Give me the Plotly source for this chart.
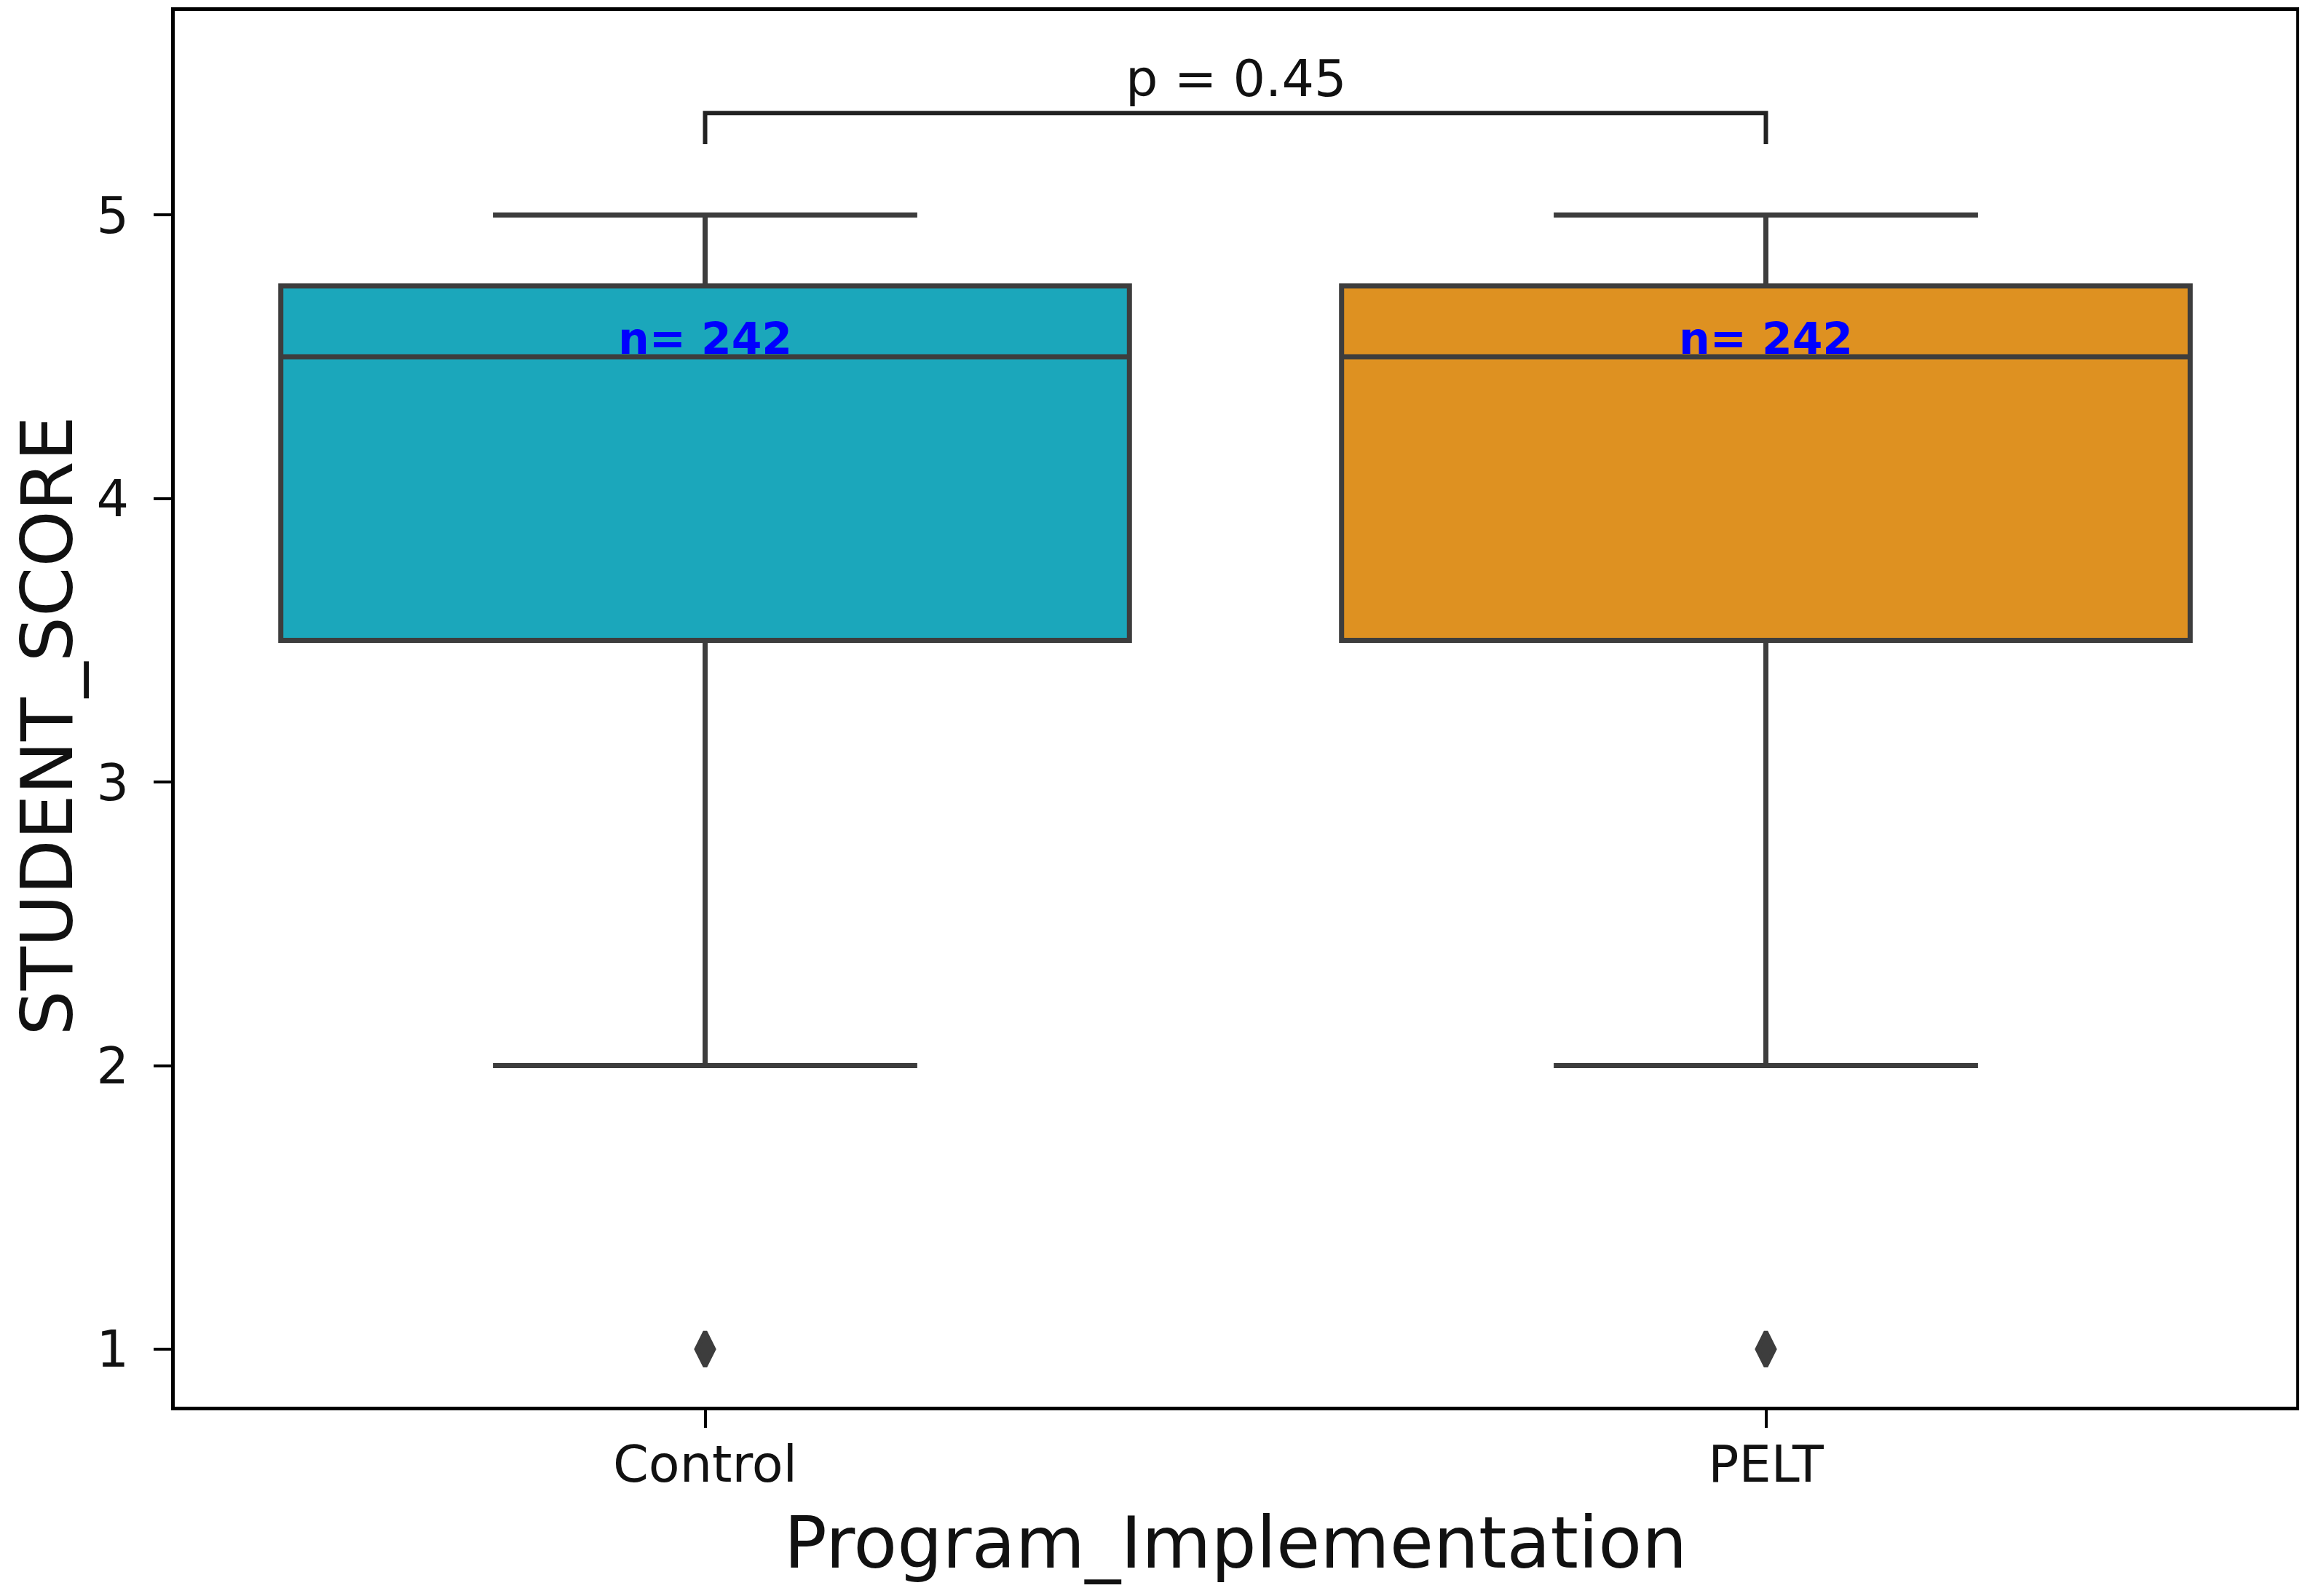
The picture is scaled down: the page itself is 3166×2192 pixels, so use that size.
import plotly.graph_objects as go

# box statistics
groups = ["Control", "PELT"]
colors = ["#1ba7bb", "#de9121"]
q1 = [3.5, 3.5]
median = [4.5, 4.5]
q3 = [4.75, 4.75]
lower = [2.0, 2.0]
upper = [5.0, 5.0]
outliers = [1.0, 1.0]
counts = [242, 242]
p_value = 0.45

LINE = "#3d3d3d"
FONT = "DejaVu Sans"

fig = go.Figure()

for i, g in enumerate(groups):
    fig.add_trace(go.Box(
        x=[g], q1=[q1[i]], median=[median[i]], q3=[q3[i]],
        lowerfence=[lower[i]], upperfence=[upper[i]],
        fillcolor=colors[i], line=dict(color=LINE, width=7),
        width=0.8, whiskerwidth=0.5, boxpoints=False, showlegend=False,
        hoverinfo="skip",
    ))
    fig.add_trace(go.Scatter(
        x=[g], y=[outliers[i]], mode="markers",
        marker=dict(symbol="diamond-tall", size=34, color=LINE,
                    line=dict(color=LINE, width=6)),
        showlegend=False, hoverinfo="skip",
    ))
    fig.add_annotation(
        x=g, y=median[i], text="<b>n= %d</b>" % counts[i],
        showarrow=False, yanchor="bottom", yshift=-12,
        font=dict(family=FONT, size=60, color="#0000ff"),
    )

# significance bracket
br_low, br_high = 5.25, 5.36
fig.add_trace(go.Scatter(
    x=[groups[0], groups[0], groups[1], groups[1]],
    y=[br_low, br_high, br_high, br_low],
    mode="lines", line=dict(color="#222222", width=6),
    showlegend=False, hoverinfo="skip",
))
fig.add_annotation(
    x=0.5, xref="x", y=br_high, text="p = %.2f" % p_value,
    showarrow=False, yanchor="bottom", yshift=4,
    font=dict(family=FONT, size=70, color="#111111"),
)

# y axis title as annotation so it can sit a little below centre
fig.add_annotation(
    x=0, xref="paper", y=0.5, yref="paper", text="STUDENT_SCORE",
    textangle=-90, showarrow=False, xanchor="center", yanchor="middle",
    xshift=-176, yshift=-24,
    font=dict(family=FONT, size=98, color="#111111"),
)

axis_common = dict(
    showline=True, linecolor="black", linewidth=5, mirror=True,
    showgrid=False, zeroline=False, ticks="outside", ticklen=24,
    tickwidth=4, tickcolor="black",
    tickfont=dict(family=FONT, size=70, color="#111111"),
)

fig.update_layout(
    width=3166, height=2192,
    margin=dict(l=232, r=20, t=2, b=268),
    paper_bgcolor="white", plot_bgcolor="white",
    boxmode="overlay",
    font=dict(family=FONT),
    xaxis=dict(
        **axis_common, type="category", range=[-0.5, 1.5],
        ticklabelstandoff=-10,
        title=dict(text="Program_Implementation", standoff=35,
                   font=dict(family=FONT, size=98, color="#111111")),
    ),
    yaxis=dict(
        **axis_common, range=[0.797, 5.72], tickvals=[1, 2, 3, 4, 5],
        ticklabelstandoff=20,
    ),
)

fig.write_html("out.html")
